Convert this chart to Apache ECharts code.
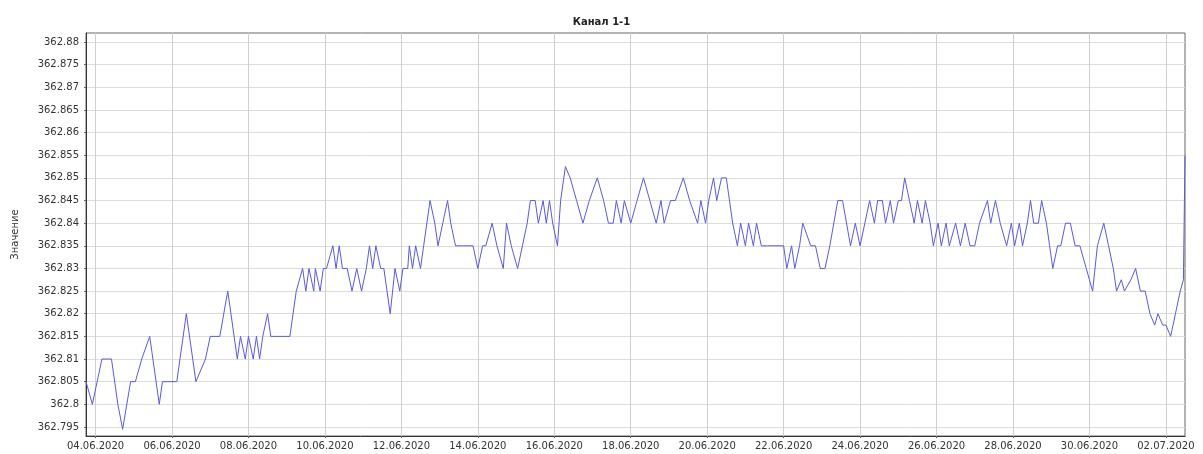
<!DOCTYPE html>
<html><head><meta charset="utf-8">
<script src="https://cdn.jsdelivr.net/npm/echarts@6/dist/echarts.min.js"></script>
<style>html,body{margin:0;padding:0;background:#fff}#c{width:1203px;height:454px}</style>
</head><body><div id="c"></div>
<script>
// ---- data ----
const chartTitle = 'Канал 1-1';
const yAxisTitle = 'Значение';
const startDateUTC = Date.UTC(2020, 5, 4, 0, 0); // 04.06.2020 00:00 = hour 0
const hours = [
 -6,-4,-2,1,4,10,14,17,22,25,29,34,38,40,42,51,53,57,61,63,69,72,78,83,89,91,94,96,99,101,103,105,108,110,122,
 126,130,132,134,137,138,141,143,145,149,151,153,155,158,161,164,167,170,172,174,176,179,181,183,185,188,191,193,196,197,199,201,204,206,
 210,213,215,218,221,223,226,231,237,240,243,245,249,252,256,258,261,265,268,271,273,276,278,281,283,285,287,290,292,295,296,298,
 302,306,310,315,319,322,325,327,330,332,336,340,344,348,352,355,357,361,364,369,373,378,380,383,385,388,390,393,396,
 400,403,405,408,410,413,415,418,422,432,434,437,439,442,444,449,452,455,458,461,466,469,474,477,480,483,486,489,491,494,496,499,
 501,504,506,508,511,514,516,519,521,524,526,529,531,534,536,540,543,546,549,552,555,560,562,565,568,572,575,577,580,582,585,587,589,592,594,597,599,
 601,604,606,609,612,615,618,622,626,629,633,636,639,641,644,646,650,653,656,659,662,665,667,670,672,675,678,681,683,684
];
const values = [
 362.805,362.8025,362.800,362.805,362.810,362.810,362.800,362.7945,362.805,362.805,362.810,362.815,362.805,362.800,362.805,362.805,362.810,362.820,362.810,362.805,362.810,362.815,362.815,362.825,362.810,362.815,362.810,362.815,362.810,362.815,362.810,362.815,362.820,362.815,362.815,
 362.825,362.830,362.825,362.830,362.825,362.830,362.825,362.830,362.830,362.835,362.830,362.835,362.830,362.830,362.825,362.830,362.825,362.830,362.835,362.830,362.835,362.830,362.830,362.825,362.820,362.830,362.825,362.830,362.830,362.835,362.830,362.835,362.830,362.835,
 362.845,362.840,362.835,362.840,362.845,362.840,362.835,362.835,362.835,362.830,362.835,362.835,362.840,362.835,362.830,362.840,362.835,362.830,362.835,362.840,362.845,362.845,362.840,362.845,362.840,362.845,362.840,362.835,362.845,362.8525,362.8525,362.850,
 362.845,362.840,362.845,362.850,362.845,362.840,362.840,362.845,362.840,362.845,362.840,362.845,362.850,362.845,362.840,362.845,362.840,362.845,362.845,362.850,362.845,362.840,362.845,362.840,362.845,362.850,362.845,362.850,362.850,
 362.840,362.835,362.840,362.835,362.840,362.835,362.840,362.835,362.835,362.835,362.830,362.835,362.830,362.835,362.840,362.835,362.835,362.830,362.830,362.835,362.845,362.845,362.835,362.840,362.835,362.840,362.845,362.840,362.845,362.845,362.840,362.845,
 362.840,362.845,362.845,362.850,362.845,362.840,362.845,362.840,362.845,362.840,362.835,362.840,362.835,362.840,362.835,362.840,362.835,362.840,362.835,362.835,362.840,362.845,362.840,362.845,362.840,362.835,362.840,362.835,362.840,362.835,362.840,362.845,362.840,362.840,362.845,362.840,362.835,
 362.830,362.835,362.835,362.840,362.840,362.835,362.835,362.830,362.825,362.835,362.840,362.835,362.830,362.825,362.8275,362.825,362.8275,362.830,362.825,362.825,362.820,362.8175,362.820,362.8175,362.8175,362.815,362.820,362.825,362.8275,362.855
];
const xRange = [-6, 684];            // hours shown
const yRange = [362.793, 362.882];   // value range shown
const xTicks = {min: 0, max: 672, step: 48};
const yTicks = {min: 362.795, max: 362.88, step: 0.005};

// ---- layout ----
const plot = {left: 86, top: 33, right: 1185, bottom: 436};
const pw = plot.right - plot.left, ph = plot.bottom - plot.top;
const pxH = pw / (xRange[1] - xRange[0]);
const pxV = ph / (yRange[1] - yRange[0]);
const font = 'DejaVu Sans';

function pad(n){return (n<10?'0':'')+n;}
function fmtDate(h){
  const d = new Date(startDateUTC + h*3600000);
  return pad(d.getUTCDate())+'.'+pad(d.getUTCMonth()+1)+'.'+d.getUTCFullYear();
}

const gridA = {left: plot.left, top: plot.top, width: pw, height: ph, show: true,
  borderColor: '#666', borderWidth: 1, backgroundColor: 'rgba(0,0,0,0)', containLabel: false};
const gridB = {left: plot.left, width: pw,
  top: plot.top + (yRange[1]-yTicks.max)*pxV, height: (yTicks.max-yTicks.min)*pxV, containLabel: false};
const gridC = {top: plot.top, height: ph,
  left: plot.left + (xTicks.min - xRange[0])*pxH, width: (xTicks.max - xTicks.min)*pxH, containLabel: false};

const chart = echarts.init(document.getElementById('c'), null, {renderer: 'canvas'});
chart.setOption({
  animation: false,
  backgroundColor: '#fff',
  title: {text: chartTitle, left: 'center', top: 12,
    textStyle: {fontFamily: font, fontSize: 10, fontWeight: 'bold', color: '#222'}},
  grid: [gridA, gridB, gridC],
  xAxis: [
    {gridIndex: 0, type: 'value', min: xRange[0], max: xRange[1],
      axisLine: {show: true, onZero: false, lineStyle: {color: '#333'}}, axisTick: {show: false},
      axisLabel: {show: false}, splitLine: {show: false}},
    {gridIndex: 1, type: 'value', min: xRange[0], max: xRange[1], show: false},
    {gridIndex: 2, type: 'value', min: xTicks.min, max: xTicks.max, interval: xTicks.step,
      axisLine: {show: false, onZero: false}, axisTick: {show: true, length: 2, lineStyle: {color: '#666'}},
      axisLabel: {show: true, margin: 5, fontFamily: font, fontSize: 10, color: '#333',
        formatter: v => fmtDate(v)},
      splitLine: {show: true, lineStyle: {color: '#cfcfcf', width: 1}}}
  ],
  yAxis: [
    {gridIndex: 0, type: 'value', min: yRange[0], max: yRange[1],
      axisLine: {show: true, onZero: false, lineStyle: {color: '#333'}}, axisTick: {show: false},
      axisLabel: {show: false}, splitLine: {show: false}},
    {gridIndex: 1, type: 'value', min: yTicks.min, max: yTicks.max, interval: yTicks.step,
      name: yAxisTitle, nameLocation: 'middle', nameGap: 66, nameRotate: 90,
      nameTextStyle: {fontFamily: font, fontSize: 10, color: '#333'},
      axisLine: {show: false, onZero: false}, axisTick: {show: true, length: 2, lineStyle: {color: '#666'}},
      axisLabel: {show: true, margin: 7, fontFamily: font, fontSize: 10, color: '#333',
        formatter: v => String(Number(v.toFixed(4)))},
      splitLine: {show: true, lineStyle: {color: '#dcdcdc', width: 1}}},
    {gridIndex: 2, type: 'value', min: yRange[0], max: yRange[1], show: false}
  ],
  series: [{
    type: 'line', xAxisIndex: 0, yAxisIndex: 0,
    data: hours.map((h, i) => [h, values[i]]),
    showSymbol: false, symbol: 'none',
    lineStyle: {color: '#5a5ad8', width: 1},
    itemStyle: {color: '#5a5ad8'},
    z: 5
  }]
});
</script>
</body></html>
